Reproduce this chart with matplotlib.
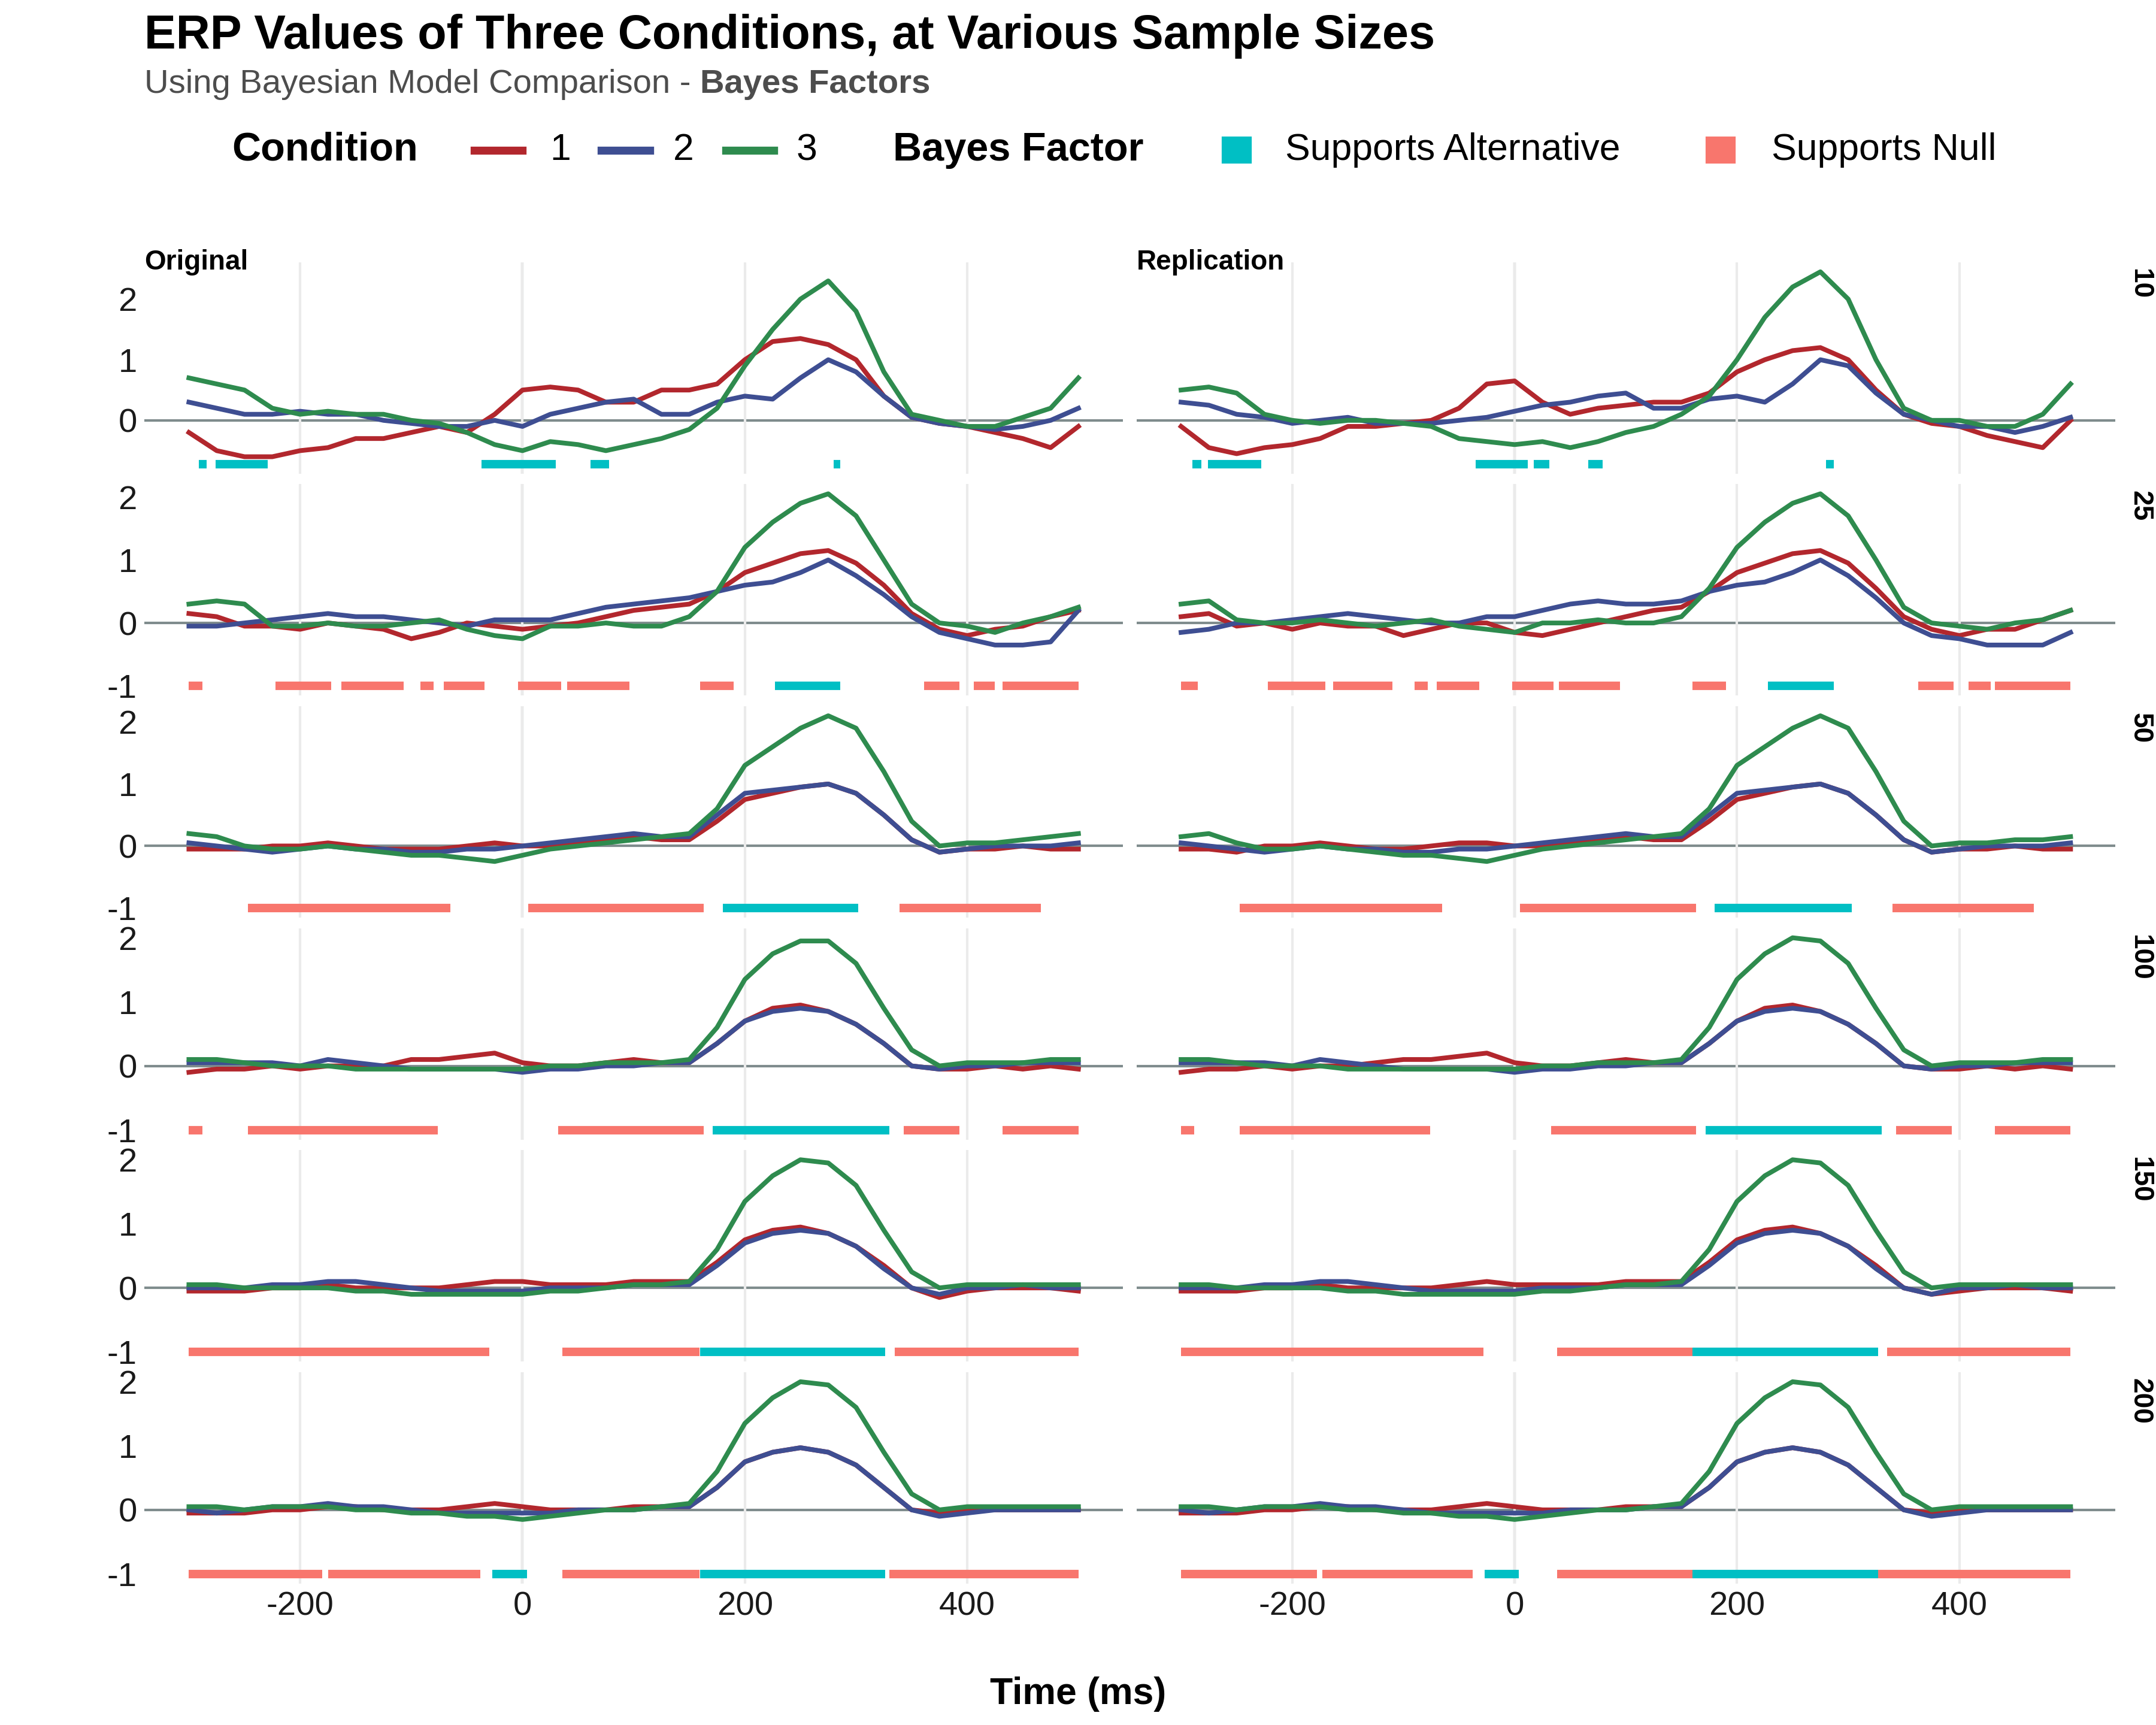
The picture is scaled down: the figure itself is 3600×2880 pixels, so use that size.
#!/usr/bin/env python3
"""ERP values of three conditions at several sample sizes, with Bayes factor bars."""

import matplotlib.pyplot as plt
import numpy as np
from matplotlib.lines import Line2D
from matplotlib.patches import Rectangle

time_ms = list(range(-300, 501, 25))
sample_sizes = ["10", "25", "50", "100", "150", "200"]
studies = ["Original", "Replication"]
bar_levels = [-0.72, -1, -1, -1, -1, -1]

# ---- ERP traces, read every 25 ms ----
orig_10_c1 = [-0.2, -0.5, -0.6, -0.6, -0.5, -0.45, -0.3, -0.3, -0.2, -0.1, -0.2, 0.1, 0.5, 0.55, 0.5, 0.3, 0.3, 0.5, 0.5, 0.6, 1.0, 1.3, 1.35, 1.25, 1.0, 0.4, 0.05, -0.05, -0.1, -0.2, -0.3, -0.45, -0.1]
orig_10_c2 = [0.3, 0.2, 0.1, 0.1, 0.15, 0.1, 0.1, 0.0, -0.05, -0.1, -0.1, 0.0, -0.1, 0.1, 0.2, 0.3, 0.35, 0.1, 0.1, 0.3, 0.4, 0.35, 0.7, 1.0, 0.8, 0.4, 0.05, -0.05, -0.1, -0.15, -0.1, 0.0, 0.2]
orig_10_c3 = [0.7, 0.6, 0.5, 0.2, 0.1, 0.15, 0.1, 0.1, 0.0, -0.05, -0.2, -0.4, -0.5, -0.35, -0.4, -0.5, -0.4, -0.3, -0.15, 0.2, 0.9, 1.5, 2.0, 2.3, 1.8, 0.8, 0.1, 0.0, -0.1, -0.1, 0.05, 0.2, 0.7]
orig_25_c1 = [0.15, 0.1, -0.05, -0.05, -0.1, 0.0, -0.05, -0.1, -0.25, -0.15, 0.0, -0.05, -0.1, -0.05, 0.0, 0.1, 0.2, 0.25, 0.3, 0.5, 0.8, 0.95, 1.1, 1.15, 0.95, 0.6, 0.15, -0.1, -0.2, -0.1, -0.05, 0.1, 0.2]
orig_25_c2 = [-0.05, -0.05, 0.0, 0.05, 0.1, 0.15, 0.1, 0.1, 0.05, 0.0, -0.05, 0.05, 0.05, 0.05, 0.15, 0.25, 0.3, 0.35, 0.4, 0.5, 0.6, 0.65, 0.8, 1.0, 0.75, 0.45, 0.1, -0.15, -0.25, -0.35, -0.35, -0.3, 0.2]
orig_25_c3 = [0.3, 0.35, 0.3, -0.05, -0.05, 0.0, -0.05, -0.05, 0.0, 0.05, -0.1, -0.2, -0.25, -0.05, -0.05, 0.0, -0.05, -0.05, 0.1, 0.5, 1.2, 1.6, 1.9, 2.05, 1.7, 1.0, 0.3, 0.0, -0.05, -0.15, 0.0, 0.1, 0.25]
orig_50_c1 = [-0.05, -0.05, -0.05, 0.0, 0.0, 0.05, 0.0, -0.05, -0.05, -0.05, 0.0, 0.05, 0.0, 0.0, 0.05, 0.1, 0.15, 0.1, 0.1, 0.4, 0.75, 0.85, 0.95, 1.0, 0.85, 0.5, 0.1, -0.1, -0.05, -0.05, 0.0, -0.05, -0.05]
orig_50_c2 = [0.05, 0.0, -0.05, -0.1, -0.05, 0.0, -0.05, -0.05, -0.1, -0.1, -0.05, -0.05, 0.0, 0.05, 0.1, 0.15, 0.2, 0.15, 0.15, 0.5, 0.85, 0.9, 0.95, 1.0, 0.85, 0.5, 0.1, -0.1, -0.05, 0.0, 0.0, 0.0, 0.05]
orig_50_c3 = [0.2, 0.15, 0.0, -0.05, -0.05, 0.0, -0.05, -0.1, -0.15, -0.15, -0.2, -0.25, -0.15, -0.05, 0.0, 0.05, 0.1, 0.15, 0.2, 0.6, 1.3, 1.6, 1.9, 2.1, 1.9, 1.2, 0.4, 0.0, 0.05, 0.05, 0.1, 0.15, 0.2]
orig_100_c1 = [-0.1, -0.05, -0.05, 0.0, -0.05, 0.0, 0.0, 0.0, 0.1, 0.1, 0.15, 0.2, 0.05, 0.0, 0.0, 0.05, 0.1, 0.05, 0.05, 0.35, 0.7, 0.9, 0.95, 0.85, 0.65, 0.35, 0.0, -0.05, -0.05, 0.0, -0.05, 0.0, -0.05]
orig_100_c2 = [0.05, 0.05, 0.05, 0.05, 0.0, 0.1, 0.05, 0.0, -0.05, -0.05, -0.05, -0.05, -0.1, -0.05, -0.05, 0.0, 0.0, 0.05, 0.05, 0.35, 0.7, 0.85, 0.9, 0.85, 0.65, 0.35, 0.0, -0.05, 0.0, 0.0, 0.05, 0.05, 0.05]
orig_100_c3 = [0.1, 0.1, 0.05, 0.0, 0.0, 0.0, -0.05, -0.05, -0.05, -0.05, -0.05, -0.05, -0.05, 0.0, 0.0, 0.05, 0.05, 0.05, 0.1, 0.6, 1.35, 1.75, 1.95, 1.95, 1.6, 0.9, 0.25, 0.0, 0.05, 0.05, 0.05, 0.1, 0.1]
orig_150_c1 = [-0.05, -0.05, -0.05, 0.0, 0.0, 0.05, 0.0, 0.0, 0.0, 0.0, 0.05, 0.1, 0.1, 0.05, 0.05, 0.05, 0.1, 0.1, 0.1, 0.4, 0.75, 0.9, 0.95, 0.85, 0.65, 0.35, 0.0, -0.15, -0.05, 0.0, 0.0, 0.0, -0.05]
orig_150_c2 = [0.0, 0.0, 0.0, 0.05, 0.05, 0.1, 0.1, 0.05, 0.0, -0.05, -0.05, -0.05, -0.05, 0.0, 0.0, 0.0, 0.05, 0.05, 0.05, 0.35, 0.7, 0.85, 0.9, 0.85, 0.65, 0.3, 0.0, -0.1, 0.0, 0.0, 0.05, 0.0, 0.0]
orig_150_c3 = [0.05, 0.05, 0.0, 0.0, 0.0, 0.0, -0.05, -0.05, -0.1, -0.1, -0.1, -0.1, -0.1, -0.05, -0.05, 0.0, 0.05, 0.05, 0.1, 0.6, 1.35, 1.75, 2.0, 1.95, 1.6, 0.9, 0.25, 0.0, 0.05, 0.05, 0.05, 0.05, 0.05]
orig_200_c1 = [-0.05, -0.05, -0.05, 0.0, 0.0, 0.05, 0.05, 0.0, 0.0, 0.0, 0.05, 0.1, 0.05, 0.0, 0.0, 0.0, 0.05, 0.05, 0.05, 0.35, 0.75, 0.9, 0.97, 0.9, 0.7, 0.35, 0.0, -0.05, 0.0, 0.0, 0.0, 0.0, 0.0]
orig_200_c2 = [0.0, -0.05, 0.0, 0.05, 0.05, 0.1, 0.05, 0.05, 0.0, -0.05, -0.05, -0.05, -0.05, -0.05, 0.0, 0.0, 0.0, 0.05, 0.05, 0.35, 0.75, 0.9, 0.97, 0.9, 0.7, 0.35, 0.0, -0.1, -0.05, 0.0, 0.0, 0.0, 0.0]
orig_200_c3 = [0.05, 0.05, 0.0, 0.05, 0.05, 0.05, 0.0, 0.0, -0.05, -0.05, -0.1, -0.1, -0.15, -0.1, -0.05, 0.0, 0.0, 0.05, 0.1, 0.6, 1.35, 1.75, 2.0, 1.95, 1.6, 0.9, 0.25, 0.0, 0.05, 0.05, 0.05, 0.05, 0.05]

rep_10_c1 = [-0.1, -0.45, -0.55, -0.45, -0.4, -0.3, -0.1, -0.1, -0.05, 0.0, 0.2, 0.6, 0.65, 0.3, 0.1, 0.2, 0.25, 0.3, 0.3, 0.45, 0.8, 1.0, 1.15, 1.2, 1.0, 0.5, 0.1, -0.05, -0.1, -0.25, -0.35, -0.45, 0.0]
rep_10_c2 = [0.3, 0.25, 0.1, 0.05, -0.05, 0.0, 0.05, -0.05, -0.05, -0.05, 0.0, 0.05, 0.15, 0.25, 0.3, 0.4, 0.45, 0.2, 0.2, 0.35, 0.4, 0.3, 0.6, 1.0, 0.9, 0.45, 0.1, 0.0, -0.1, -0.1, -0.2, -0.1, 0.05]
rep_10_c3 = [0.5, 0.55, 0.45, 0.1, 0.0, -0.05, 0.0, 0.0, -0.05, -0.1, -0.3, -0.35, -0.4, -0.35, -0.45, -0.35, -0.2, -0.1, 0.1, 0.4, 1.0, 1.7, 2.2, 2.45, 2.0, 1.0, 0.2, 0.0, 0.0, -0.1, -0.1, 0.1, 0.6]
rep_25_c1 = [0.1, 0.15, -0.05, 0.0, -0.1, 0.0, -0.05, -0.05, -0.2, -0.1, 0.0, 0.0, -0.15, -0.2, -0.1, 0.0, 0.1, 0.2, 0.25, 0.5, 0.8, 0.95, 1.1, 1.15, 0.95, 0.55, 0.1, -0.1, -0.2, -0.1, -0.1, 0.05, 0.2]
rep_25_c2 = [-0.15, -0.1, 0.0, 0.0, 0.05, 0.1, 0.15, 0.1, 0.05, 0.0, 0.0, 0.1, 0.1, 0.2, 0.3, 0.35, 0.3, 0.3, 0.35, 0.5, 0.6, 0.65, 0.8, 1.0, 0.75, 0.4, 0.0, -0.2, -0.25, -0.35, -0.35, -0.35, -0.15]
rep_25_c3 = [0.3, 0.35, 0.05, 0.0, 0.0, 0.05, 0.0, -0.05, 0.0, 0.05, -0.05, -0.1, -0.15, 0.0, 0.0, 0.05, 0.0, 0.0, 0.1, 0.55, 1.2, 1.6, 1.9, 2.05, 1.7, 1.0, 0.25, 0.0, -0.05, -0.1, 0.0, 0.05, 0.2]
rep_50_c1 = [-0.05, -0.05, -0.1, 0.0, 0.0, 0.05, 0.0, -0.05, -0.05, 0.0, 0.05, 0.05, 0.0, 0.0, 0.05, 0.1, 0.15, 0.1, 0.1, 0.4, 0.75, 0.85, 0.95, 1.0, 0.85, 0.5, 0.1, -0.1, -0.05, -0.05, 0.0, -0.05, -0.05]
rep_50_c2 = [0.05, 0.0, -0.05, -0.1, -0.05, 0.0, -0.05, -0.05, -0.1, -0.1, -0.05, -0.05, 0.0, 0.05, 0.1, 0.15, 0.2, 0.15, 0.15, 0.5, 0.85, 0.9, 0.95, 1.0, 0.85, 0.5, 0.1, -0.1, -0.05, 0.0, 0.0, 0.0, 0.05]
rep_50_c3 = [0.15, 0.2, 0.05, -0.05, -0.05, 0.0, -0.05, -0.1, -0.15, -0.15, -0.2, -0.25, -0.15, -0.05, 0.0, 0.05, 0.1, 0.15, 0.2, 0.6, 1.3, 1.6, 1.9, 2.1, 1.9, 1.2, 0.4, 0.0, 0.05, 0.05, 0.1, 0.1, 0.15]
rep_100_c1 = [-0.1, -0.05, -0.05, 0.0, -0.05, 0.0, 0.0, 0.05, 0.1, 0.1, 0.15, 0.2, 0.05, 0.0, 0.0, 0.05, 0.1, 0.05, 0.05, 0.35, 0.7, 0.9, 0.95, 0.85, 0.65, 0.35, 0.0, -0.05, -0.05, 0.0, -0.05, 0.0, -0.05]
rep_100_c2 = [0.05, 0.05, 0.05, 0.05, 0.0, 0.1, 0.05, 0.0, -0.05, -0.05, -0.05, -0.05, -0.1, -0.05, -0.05, 0.0, 0.0, 0.05, 0.05, 0.35, 0.7, 0.85, 0.9, 0.85, 0.65, 0.35, 0.0, -0.05, 0.0, 0.0, 0.05, 0.05, 0.05]
rep_100_c3 = [0.1, 0.1, 0.05, 0.0, 0.0, 0.0, -0.05, -0.05, -0.05, -0.05, -0.05, -0.05, -0.05, 0.0, 0.0, 0.05, 0.05, 0.05, 0.1, 0.6, 1.35, 1.75, 2.0, 1.95, 1.6, 0.9, 0.25, 0.0, 0.05, 0.05, 0.05, 0.1, 0.1]
rep_150_c1 = [-0.05, -0.05, -0.05, 0.0, 0.0, 0.05, 0.0, 0.0, 0.0, 0.0, 0.05, 0.1, 0.05, 0.05, 0.05, 0.05, 0.1, 0.1, 0.1, 0.4, 0.75, 0.9, 0.95, 0.85, 0.65, 0.35, 0.0, -0.1, -0.05, 0.0, 0.0, 0.0, -0.05]
rep_150_c2 = [0.0, 0.0, 0.0, 0.05, 0.05, 0.1, 0.1, 0.05, 0.0, -0.05, -0.05, -0.05, -0.05, 0.0, 0.0, 0.0, 0.05, 0.05, 0.05, 0.35, 0.7, 0.85, 0.9, 0.85, 0.65, 0.3, 0.0, -0.1, 0.0, 0.0, 0.05, 0.0, 0.0]
rep_150_c3 = [0.05, 0.05, 0.0, 0.0, 0.0, 0.0, -0.05, -0.05, -0.1, -0.1, -0.1, -0.1, -0.1, -0.05, -0.05, 0.0, 0.05, 0.05, 0.1, 0.6, 1.35, 1.75, 2.0, 1.95, 1.6, 0.9, 0.25, 0.0, 0.05, 0.05, 0.05, 0.05, 0.05]
rep_200_c1 = [-0.05, -0.05, -0.05, 0.0, 0.0, 0.05, 0.05, 0.0, 0.0, 0.0, 0.05, 0.1, 0.05, 0.0, 0.0, 0.0, 0.05, 0.05, 0.05, 0.35, 0.75, 0.9, 0.97, 0.9, 0.7, 0.35, 0.0, -0.05, 0.0, 0.0, 0.0, 0.0, 0.0]
rep_200_c2 = [0.0, -0.05, 0.0, 0.05, 0.05, 0.1, 0.05, 0.05, 0.0, -0.05, -0.05, -0.05, -0.05, -0.05, 0.0, 0.0, 0.0, 0.05, 0.05, 0.35, 0.75, 0.9, 0.97, 0.9, 0.7, 0.35, 0.0, -0.1, -0.05, 0.0, 0.0, 0.0, 0.0]
rep_200_c3 = [0.05, 0.05, 0.0, 0.05, 0.05, 0.05, 0.0, 0.0, -0.05, -0.05, -0.1, -0.1, -0.15, -0.1, -0.05, 0.0, 0.0, 0.05, 0.1, 0.6, 1.35, 1.75, 2.0, 1.95, 1.6, 0.9, 0.25, 0.0, 0.05, 0.05, 0.05, 0.05, 0.05]

# ---- Bayes factor segments (start ms, end ms) ----
orig_10_alt = [(-291, -284), (-276, -229), (-37, 30), (61, 78), (280, 286)]
orig_10_null = []
orig_25_alt = [(227, 286)]
orig_25_null = [(-300, -288), (-222, -172), (-163, -107), (-92, -80), (-71, -34), (-4, 35), (40, 96), (160, 190), (361, 393), (406, 425), (432, 500)]
orig_50_alt = [(180, 302)]
orig_50_null = [(-247, -65), (5, 163), (339, 466)]
orig_100_alt = [(171, 330)]
orig_100_null = [(-300, -288), (-247, -76), (32, 163), (343, 393), (432, 500)]
orig_150_alt = [(160, 326)]
orig_150_null = [(-300, -30), (36, 159), (335, 500)]
orig_200_alt = [(-27, 4), (160, 326)]
orig_200_null = [(-300, -180), (-175, -38), (36, 159), (330, 500)]

rep_10_alt = [(-290, -282), (-276, -228), (-35, 12), (17, 31), (66, 79), (280, 287)]
rep_10_null = []
rep_25_alt = [(228, 287)]
rep_25_null = [(-300, -285), (-222, -170), (-163, -110), (-90, -78), (-70, -32), (-2, 35), (40, 95), (160, 190), (363, 395), (408, 428), (432, 500)]
rep_50_alt = [(180, 303)]
rep_50_null = [(-247, -65), (5, 163), (340, 467)]
rep_100_alt = [(172, 330)]
rep_100_null = [(-300, -288), (-247, -76), (33, 163), (343, 393), (432, 500)]
rep_150_alt = [(160, 327)]
rep_150_null = [(-300, -28), (38, 160), (335, 500)]
rep_200_alt = [(-27, 4), (160, 327)]
rep_200_null = [(-300, -178), (-173, -38), (38, 160), (327, 500)]

COND_COLORS = ["#B2272D", "#3E4E92", "#2E8B4E"]
ALT_COLOR = "#00BFC4"
NULL_COLOR = "#F8766D"

plt.rcParams.update({"font.family": ["Liberation Sans", "DejaVu Sans"], "font.size": 13,
                     "axes.unicode_minus": False})

fig = plt.figure(figsize=(12, 9.6), dpi=300)
fig.patch.set_facecolor("#FFFFFF")
gs = fig.add_gridspec(6, 2, left=0.067, right=0.981, top=0.848, bottom=0.082, hspace=0.05, wspace=0.014)

g = globals()
for r, n in enumerate(sample_sizes):
    # per-row y range (free y scale shared across the two columns)
    vals = [bar_levels[r]]
    for pre in ("orig", "rep"):
        for c in (1, 2, 3):
            vals += g[f"{pre}_{n}_c{c}"]
    lo, hi = min(vals), max(vals)
    pad = (hi - lo) * 0.05
    ylo, yhi = lo - pad, hi + pad
    for col, (pre, study) in enumerate(zip(("orig", "rep"), studies)):
        ax = fig.add_subplot(gs[r, col])
        ax.set_facecolor("#FFFFFF")
        for s in ax.spines.values():
            s.set_visible(False)
        ax.set_xlim(-340, 540)
        ax.set_ylim(ylo, yhi)
        ax.set_xticks([-200, 0, 200, 400])
        ax.set_yticks([t for t in (-1, 0, 1, 2) if ylo <= t <= yhi])
        ax.grid(axis="x", color="#EBEBEB", linewidth=1.0)
        ax.grid(axis="y", visible=False)
        ax.tick_params(length=0, labelsize=13.5, colors="#1A1A1A", pad=3)
        ax.axvline(0, color="#7F8C8D", linewidth=1.0, zorder=1)
        ax.axhline(0, color="#7F8C8D", linewidth=1.0, zorder=1)
        for c in (1, 2, 3):
            ax.plot(time_ms, g[f"{pre}_{n}_c{c}"], color=COND_COLORS[c - 1], linewidth=1.9, zorder=3)
        for key, color in (("null", NULL_COLOR), ("alt", ALT_COLOR)):
            segs = g[f"{pre}_{n}_{key}"]
            if segs:
                ax.hlines([bar_levels[r]] * len(segs), [a for a, _ in segs], [b for _, b in segs],
                          color=color, linewidth=3.4, zorder=4)
        if col == 1:
            ax.set_yticklabels([])
            ax.text(1.012, 0.97, n, transform=ax.transAxes, rotation=-90, ha="left", va="top",
                    fontsize=11, fontweight="bold")
        if r < 5:
            ax.set_xticklabels([])
        if r == 0:
            ax.text(0.0, 1.0, study, transform=ax.transAxes, ha="left", va="center",
                    fontsize=11, fontweight="bold")

fig.text(0.5, 0.018, "Time (ms)", ha="center", va="center", fontsize=15, fontweight="bold")

# title and subtitle
fig.text(0.067, 0.992, "ERP Values of Three Conditions, at Various Sample Sizes", ha="left", va="top",
         fontsize=19, fontweight="bold")
sub = fig.text(0.067, 0.951, "Using Bayesian Model Comparison - ", ha="left", va="center",
               fontsize=13.5, color="#4D4D4D")
fig.canvas.draw()
bb = sub.get_window_extent().transformed(fig.transFigure.inverted())
fig.text(bb.x1, 0.951, "Bayes Factors", ha="left", va="center", fontsize=13.5, color="#4D4D4D",
         fontweight="bold")

# legend row
ly = 0.913
W = 1560.0
fig.text(168 / W, ly, "Condition", ha="left", va="center", fontsize=16, fontweight="bold")
for (x0, x1, xt), lab, colr in zip([(343, 378, 398), (435, 470, 487), (525, 560, 576)], ["1", "2", "3"], COND_COLORS):
    fig.add_artist(Line2D([x0 / W, x1 / W], [ly, ly], color=colr, linewidth=3.2, transform=fig.transFigure))
    fig.text(xt / W, ly, lab, ha="left", va="center", fontsize=15)
fig.text(646 / W, ly, "Bayes Factor", ha="left", va="center", fontsize=16, fontweight="bold")
for x0, xt, lab, colr in ((885, 930, "Supports Alternative", ALT_COLOR), (1235, 1282, "Supports Null", NULL_COLOR)):
    fig.add_artist(Rectangle((x0 / W, ly - 0.007), 20 / W, 0.014, color=colr, transform=fig.transFigure))
    fig.text(xt / W, ly, lab, ha="left", va="center", fontsize=15)

fig.savefig("out.png", dpi=300, facecolor="#FFFFFF")
